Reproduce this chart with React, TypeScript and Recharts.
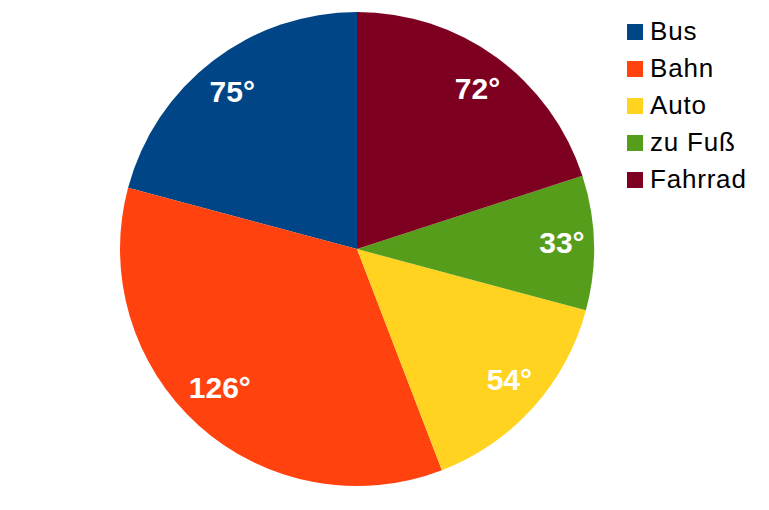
import React from "react";
import { PieChart, Pie, Cell } from "recharts";

const categories = ["Bus", "Bahn", "Auto", "zu Fuß", "Fahrrad"];
const values = [75, 126, 54, 33, 72];
const colors = ["#004586", "#ff420e", "#ffd320", "#579d1c", "#7e0021"];

const data = categories.map((name, i) => ({ name, value: values[i] }));

const RAD = Math.PI / 180;
const FONT = "'Liberation Sans', Arial, sans-serif";
const LABEL_SIZE = 30;

const renderLabel = (props: any) => {
  const { cx, cy, midAngle, value } = props;
  const c = Math.cos(-midAngle * RAD);
  const s = Math.sin(-midAngle * RAD);
  let dx = 205 * c;
  let dy = 197 * s - 1;
  // keep the label box inside the pie (label placed like the office chart)
  const txt = `${value}°`;
  const w = (String(value).length * 0.556 + 0.4) * LABEL_SIZE;
  const hh = 11;
  const limit = 225;
  const cornerX = Math.abs(dx) + w / 2;
  const cornerY = Math.abs(dy) + hh;
  if (cornerX < limit && Math.hypot(cornerX, cornerY) > limit) {
    const ny = Math.sqrt(limit * limit - cornerX * cornerX) - hh;
    dy = Math.sign(dy) * ny;
  }
  return (
    <text
      x={cx + dx}
      y={cy + dy}
      fill="#ffffff"
      textAnchor="middle"
      dominantBaseline="central"
      fontFamily={FONT}
      fontWeight="bold"
      fontSize={LABEL_SIZE}
    >
      {txt}
    </text>
  );
};

export default function App() {
  return (
    <div style={{ position: "absolute", left: 0, top: 0, width: 769, height: 510, background: "#fff" }}>
      <PieChart width={769} height={510} margin={{ top: 0, right: 0, bottom: 0, left: 0 }}>
        <Pie
          data={data}
          dataKey="value"
          nameKey="name"
          cx={357}
          cy={249}
          outerRadius={237}
          startAngle={90}
          endAngle={450}
          stroke="none"
          label={renderLabel}
          labelLine={false}
          isAnimationActive={false}
        >
          {data.map((d, i) => (
            <Cell key={d.name} fill={colors[i]} />
          ))}
        </Pie>
      </PieChart>
      <svg
        width={769}
        height={510}
        style={{ position: "absolute", left: 0, top: 0, pointerEvents: "none" }}
      >
        {categories.map((cat, i) => (
          <g key={cat}>
            <rect x={627} y={24 + 37 * i} width={16} height={16} fill={colors[i]} />
            <text
              x={650}
              y={40 + 37 * i}
              fontFamily={FONT}
              fontSize={26}
              letterSpacing={0.8}
              fill="#000"
            >
              {cat}
            </text>
          </g>
        ))}
      </svg>
    </div>
  );
}
